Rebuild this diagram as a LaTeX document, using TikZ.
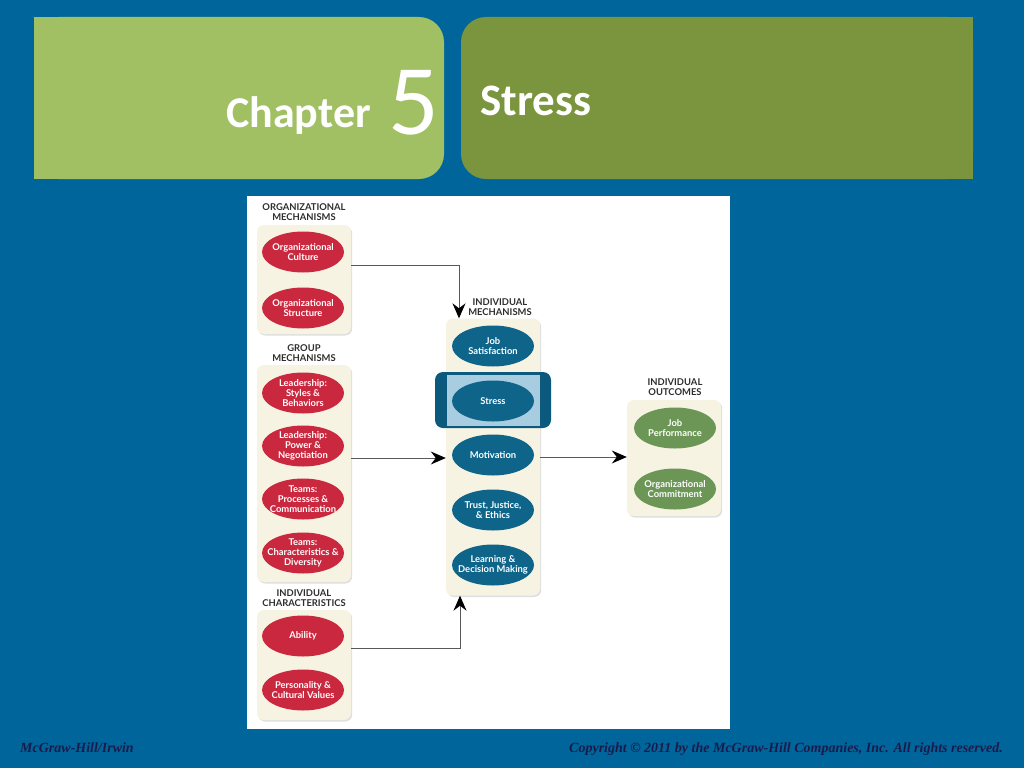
\documentclass[tikz,border=0pt]{standalone}
\usepackage{fontspec}
\newfontfamily\hfont{Carlito}
\newfontfamily\dfont{Lato}
\newfontfamily\ffont{Liberation Serif}
\usetikzlibrary{shapes.geometric,arrows.meta,shadows}
\definecolor{bgblue}{HTML}{00659A}
\definecolor{lgreen}{HTML}{A1C064}
\definecolor{dgreen}{HTML}{7A953D}
\definecolor{cream}{HTML}{F6F3E3}
\definecolor{ered}{HTML}{C9283E}
\definecolor{eblue}{HTML}{0E6489}
\definecolor{egreen}{HTML}{6B9656}
\definecolor{hlout}{HTML}{0B5A7E}
\definecolor{hlin}{HTML}{A8CCE0}
\definecolor{labgray}{HTML}{2E2E2E}
\definecolor{foot}{HTML}{1B1B4B}
\tikzset{
  cbox/.style={fill=cream, rounded corners=7pt, minimum width=94pt, inner sep=0pt,
    drop shadow={shadow xshift=1.2pt, shadow yshift=-1.5pt, opacity=0.25, fill=black!50}},
  ell/.style={ellipse, minimum width=82pt, minimum height=41pt, inner xsep=-12pt, inner ysep=-4pt, text=white,
    align=center, font=\dfont\bfseries\fontsize{9.4}{10}\selectfont},
  redell/.style={ell, fill=ered},
  blueell/.style={ell, fill=eblue},
  greenell/.style={ell, fill=egreen},
  lab/.style={align=center, text=labgray, inner sep=0pt, font=\dfont\bfseries\fontsize{9.4}{10}\selectfont},
  conn/.style={draw=black!65, line width=0.9pt, -{Stealth[length=15pt, width=13pt, inset=5pt, black]}}
}
\begin{document}
\begin{tikzpicture}[x=1pt,y=-1pt]
\useasboundingbox (0,0) rectangle (1024,768);
\fill[bgblue] (0,0) rectangle (1024,768);
% header boxes
\fill[lgreen, rounded corners=25pt] (34,17) rectangle (444,179);
\fill[lgreen] (34,17) rectangle (120,179);
\fill[dgreen, rounded corners=25pt] (461,17) rectangle (973,179);
\fill[dgreen] (900,17) rectangle (973,179);
\node[anchor=base east, inner sep=0pt, text=white, font=\hfont\bfseries\fontsize{44}{44}\selectfont] (chap) at (371,127) {Chapter};
\node[anchor=base west, inner sep=0pt, text=white, font=\hfont\fontsize{100}{100}\selectfont] (num) at (388,134) {5};
\node[anchor=base west, inner sep=0pt, text=white, font=\hfont\bfseries\fontsize{45}{45}\selectfont] (title) at (480,115) {Stress};
% white panel
\fill[white] (247,196) rectangle (730,729);
% left column
\node[lab] (orglab) at (304,212) {ORGANIZATIONAL\\MECHANISMS};
\node[cbox, minimum height=109pt] (org) at (304,279.5) {};
\node[redell] (oc) at (303,252) {Organizational\\Culture};
\node[redell] (os) at (303,308) {Organizational\\Structure};
\node[lab] (grplab) at (304,353) {GROUP\\MECHANISMS};
\node[cbox, minimum height=217pt] (grp) at (304,473.5) {};
\node[redell] (l1) at (303,393) {Leadership:\\Styles \&\\Behaviors};
\node[redell] (l2) at (303,446) {Leadership:\\Power \&\\Negotiation};
\node[redell] (t1) at (303,499) {Teams:\\Processes \&\\Communication};
\node[redell] (t2) at (303,553) {Teams:\\Characteristics \&\\Diversity};
\node[lab] (indlab) at (304,598) {INDIVIDUAL\\CHARACTERISTICS};
\node[cbox, minimum height=110pt] (ind) at (304,665) {};
\node[redell] (ab) at (303,636) {Ability};
\node[redell] (pc) at (303,690) {Personality \&\\Cultural Values};
% middle column
\node[lab] (midlab) at (500,307) {INDIVIDUAL\\MECHANISMS};
\node[cbox, minimum height=277pt] (mid) at (493,457) {};
\fill[hlout, rounded corners=8pt] (435,372) rectangle (551,428);
\fill[hlin] (447,374.5) rectangle (540,425.5);
\node[blueell] (js) at (493,346) {Job\\Satisfaction};
\node[blueell] (st) at (493,401) {Stress};
\node[blueell] (mo) at (493,455) {Motivation};
\node[blueell] (tj) at (493,510) {Trust, Justice,\\\& Ethics};
\node[blueell] (ld) at (493,565) {Learning \&\\Decision Making};
% right column
\node[lab] (outlab) at (675,387) {INDIVIDUAL\\OUTCOMES};
\node[cbox, minimum height=116pt] (out) at (674,458) {};
\node[greenell] (jp) at (675,428) {Job\\Performance};
\node[greenell] (oco) at (675,489) {Organizational\\Commitment};
% connectors
\draw[conn] (org.east |- 0,265) -| (mid.north -| 459,0);
\draw[conn] (grp.east |- 0,458) -- (mid.west |- 0,458);
\draw[conn] (ind.east |- 0,648) -| (mid.south -| 460,0);
\draw[conn] (mid.east |- 0,457) -- (out.west |- 0,457);
% footer
\node[anchor=base west, inner sep=0pt, text=foot, font=\ffont\bfseries\itshape\fontsize{14}{14}\selectfont] (f1) at (20,752) {McGraw-Hill/Irwin};
\node[anchor=base east, inner sep=0pt, text=foot, font=\ffont\bfseries\itshape\fontsize{14}{14}\selectfont] (f2) at (1003,752) {Copyright \copyright{} 2011 by the McGraw-Hill Companies, Inc. All rights reserved.};
\end{tikzpicture}
\end{document}
